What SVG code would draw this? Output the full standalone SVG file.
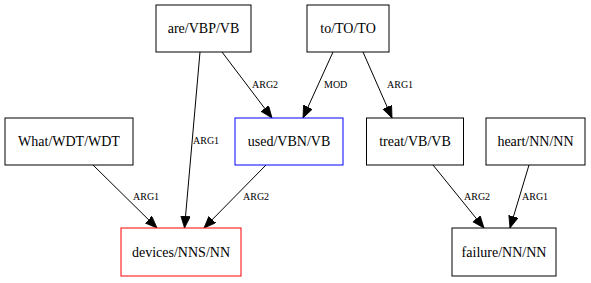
<svg xmlns="http://www.w3.org/2000/svg" width="591" height="283" viewBox="0 0 591 283">
<style>
  .node rect { fill: #fff; stroke: #000; stroke-width: 1; }
  .node text { font-family: "Liberation Serif", "Times New Roman", serif; font-size: 14px; text-anchor: middle; fill: #000; }
  .edge line { stroke: #000; stroke-width: 1; marker-end: url(#arrow); }
  .edge text { font-family: "Liberation Serif", "Times New Roman", serif; font-size: 10px; fill: #000; }
</style>
<defs>
  <marker id="arrow" markerUnits="userSpaceOnUse" markerWidth="13" markerHeight="11" refX="12" refY="4.8" orient="auto" viewBox="0 0 13 11">
    <path d="M0,0 L12,4.8 L0,9.6 z" fill="#000" stroke="#000" stroke-width="0.8"/>
  </marker>
</defs>
<rect width="591" height="283" fill="#fff"/>

<g id="edges">
  <g class="edge"><line x1="200" y1="52" x2="184.5" y2="228"/><text x="193" y="144">ARG1</text></g>
  <g class="edge"><line x1="222" y1="52" x2="272" y2="118"/><text x="252" y="88">ARG2</text></g>
  <g class="edge"><line x1="333" y1="52" x2="303" y2="118"/><text x="324" y="88">MOD</text></g>
  <g class="edge"><line x1="363" y1="52" x2="392" y2="118"/><text x="387" y="88">ARG1</text></g>
  <g class="edge"><line x1="93" y1="165" x2="157" y2="228"/><text x="133" y="200">ARG1</text></g>
  <g class="edge"><line x1="266" y1="165" x2="204" y2="228"/><text x="243" y="200">ARG2</text></g>
  <g class="edge"><line x1="433" y1="165" x2="484" y2="228"/><text x="464" y="200">ARG2</text></g>
  <g class="edge"><line x1="529" y1="165" x2="510" y2="228"/><text x="522" y="200">ARG1</text></g>
</g>

<g id="n_are" class="node"><rect x="156" y="5" width="95" height="47"/><text x="203.5" y="33">are/VBP/VB</text></g>
<g id="n_to" class="node"><rect x="307" y="5" width="82" height="47"/><text x="348" y="33">to/TO/TO</text></g>
<g id="n_what" class="node"><rect x="5" y="118" width="128" height="47"/><text x="69" y="146">What/WDT/WDT</text></g>
<g id="n_used" class="node"><rect x="235" y="118" width="108" height="47" style="stroke:#0000ff"/><text x="289" y="146">used/VBN/VB</text></g>
<g id="n_treat" class="node"><rect x="366.5" y="118" width="97" height="47"/><text x="415" y="146">treat/VB/VB</text></g>
<g id="n_heart" class="node"><rect x="486" y="118" width="99" height="47"/><text x="535.5" y="146">heart/NN/NN</text></g>
<g id="n_devices" class="node"><rect x="121" y="228" width="120" height="48" style="stroke:#ff0000"/><text x="181" y="257">devices/NNS/NN</text></g>
<g id="n_failure" class="node"><rect x="452" y="228" width="104" height="48"/><text x="504" y="257">failure/NN/NN</text></g>
</svg>
